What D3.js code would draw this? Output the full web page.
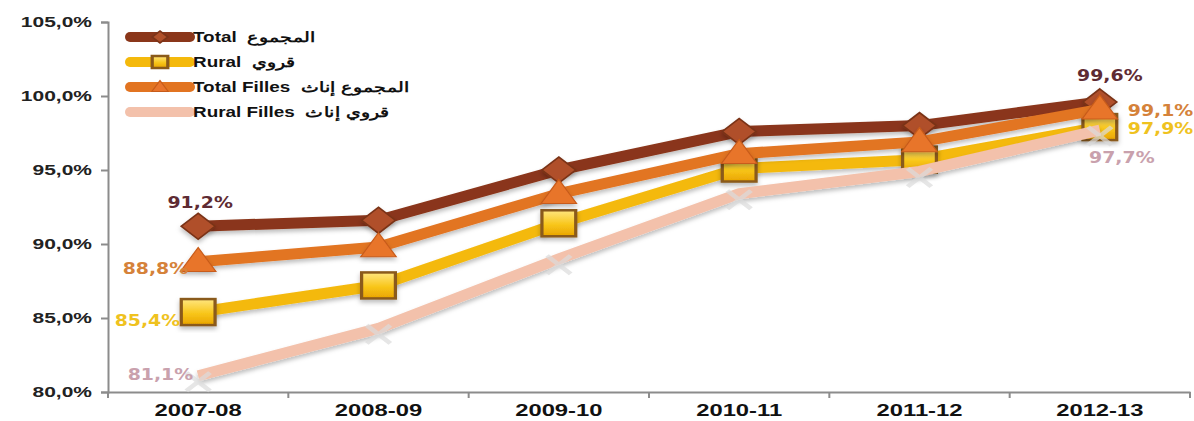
<!DOCTYPE html>
<html>
<head>
<meta charset="utf-8">
<script src="https://cdn.jsdelivr.net/npm/d3@7"></script>
<style>
  body { margin: 0; background: #fff; }
  text { font-family: "Liberation Sans", Arial, sans-serif; }
</style>
</head>
<body>
<div id="chart"></div>
<script>
// Data
const years = ["2007-08", "2008-09", "2009-10", "2010-11", "2011-12", "2012-13"];
const total = [91.2, 91.6, 95.0, 97.6, 98.0, 99.6];
const rural = [85.4, 87.2, 91.4, 95.1, 95.7, 97.9];
const totalFilles = [88.8, 89.8, 93.4, 96.1, 96.9, 99.1];
const ruralFilles = [81.1, 84.3, 89.0, 93.4, 94.9, 97.7];
const yTicks = [80, 85, 90, 95, 100, 105];
const seriesNames = ["Total  المجموع", "Rural  قروي", "Total Filles  المجموع إناث", "Rural Filles  قروي إناث"];

const series = [
  {name: seriesNames[0], values: total, color: "#8a361a", marker: "diamond", labelColor: "#5e2b33"},
  {name: seriesNames[1], values: rural, color: "#f4b90c", marker: "square", labelColor: "#efc21f"},
  {name: seriesNames[2], values: totalFilles, color: "#e27421", marker: "triangle", labelColor: "#d5823a"},
  {name: seriesNames[3], values: ruralFilles, color: "#f3c1ab", marker: "cross", labelColor: "#c9a1ad"}
];

const W = 1194, H = 421;
const SX = 1.3; // the original picture is stretched horizontally

const svg = d3.select("#chart").append("svg")
  .attr("width", W).attr("height", H);

const defs = svg.append("defs");
const grad = defs.append("linearGradient").attr("id", "sq").attr("x1", 0).attr("y1", 0).attr("x2", 0).attr("y2", 1);
grad.append("stop").attr("offset", "0%").attr("stop-color", "#ffe680");
grad.append("stop").attr("offset", "55%").attr("stop-color", "#f8c61a");
grad.append("stop").attr("offset", "100%").attr("stop-color", "#e9a400");
const sh = defs.append("filter").attr("id", "shadow").attr("x", "-30%").attr("y", "-30%").attr("width", "160%").attr("height", "160%");
sh.append("feDropShadow").attr("dx", 0).attr("dy", 3).attr("stdDeviation", 2).attr("flood-color", "#000").attr("flood-opacity", 0.25);

const x = d3.scaleBand().domain(years).range([108, 1190]);
const cx = d => x(d) + x.bandwidth() / 2;
const y = d3.scaleLinear().domain([80, 105]).range([392, 22]);

// stretch a text horizontally around its anchor x
function stretch(sel, k) {
  sel.each(function() {
    const t = d3.select(this);
    const ax = +t.attr("x") || 0;
    t.attr("transform", `translate(${ax},0) scale(${k},1) translate(${-ax},0)`);
  });
}

// Y axis
const yAxis = svg.append("g")
  .attr("transform", "translate(108,0)")
  .call(d3.axisLeft(y).tickValues(yTicks).tickSize(7).tickPadding(9)
    .tickFormat(d => d.toFixed(1).replace(".", ",") + "%"));
yAxis.select(".domain").attr("stroke", "#8c8c8c").attr("stroke-width", 2);
yAxis.selectAll(".tick line").attr("stroke", "#8c8c8c").attr("stroke-width", 2);
yAxis.selectAll("text").attr("fill", "#222").style("font-size", "15px").style("font-weight", "bold")
  .style("font-family", "'Liberation Sans', Arial, sans-serif")
  .call(stretch, 1.4);

// X axis
const xAxis = svg.append("g")
  .attr("transform", "translate(0,392)")
  .call(d3.axisBottom(x).tickSize(0).tickPadding(12));
xAxis.select(".domain").attr("stroke", "#8c8c8c").attr("stroke-width", 2);
xAxis.selectAll("text").attr("fill", "#111").style("font-size", "17px").style("font-weight", "bold")
  .style("font-family", "'Liberation Sans', Arial, sans-serif")
  .call(stretch, 1.4);
xAxis.selectAll(".bound")
  .data(years.concat(["end"]))
  .enter().append("line")
  .attr("class", "bound")
  .attr("x1", (d, i) => x.range()[0] + i * x.bandwidth())
  .attr("x2", (d, i) => x.range()[0] + i * x.bandwidth())
  .attr("y1", 0).attr("y2", 6)
  .attr("stroke", "#8c8c8c").attr("stroke-width", 2);

// Marker drawing
function drawMarker(g, type, color, size) {
  const s = size;
  if (type === "diamond") {
    g.append("path")
      .attr("d", `M0,${-s}L${s},0L0,${s}L${-s},0Z`)
      .attr("fill", "#b0502a").attr("stroke", "#7a3318").attr("stroke-width", 1.5);
  } else if (type === "square") {
    g.append("rect")
      .attr("x", -s).attr("y", -s).attr("width", 2 * s).attr("height", 2 * s)
      .attr("fill", "url(#sq)").attr("stroke", "#8a5a1a").attr("stroke-width", 2.5);
  } else if (type === "triangle") {
    g.append("path")
      .attr("d", `M0,${-s * 1.1}L${s * 1.05},${s * 0.75}L${-s * 1.05},${s * 0.75}Z`)
      .attr("fill", "#e8742c").attr("stroke", "#c85c1a").attr("stroke-width", 1);
  } else {
    g.append("path")
      .attr("d", `M${-s * 0.7},${-s * 0.7}L${s * 0.7},${s * 0.7}M${s * 0.7},${-s * 0.7}L${-s * 0.7},${s * 0.7}`)
      .attr("stroke", "#dcdcdc").attr("stroke-width", 4).attr("opacity", 0.7);
  }
}

const line = d3.line().x((d, i) => cx(years[i])).y(d => y(d));

series.forEach(s => {
  const g = svg.append("g");
  g.append("path")
    .attr("d", line(s.values))
    .attr("fill", "none")
    .attr("stroke", s.color)
    .attr("stroke-width", 11)
    .attr("stroke-linejoin", "round")
    .attr("filter", "url(#shadow)");
  s.values.forEach((v, i) => {
    const m = g.append("g")
      .attr("transform", `translate(${cx(years[i])},${y(v) + (s.marker === "cross" ? 6 : 0)}) scale(${SX},1)`)
      .attr("filter", s.marker === "cross" ? null : "url(#shadow)");
    drawMarker(m, s.marker, s.color, 13);
  });
});

// Data labels (first and last points)
const fmt = v => v.toFixed(1).replace(".", ",") + "%";
const labelFont = "'DejaVu Sans', Verdana, sans-serif";
function label(px, py, txt, color, anchor) {
  svg.append("text")
    .attr("x", px).attr("y", py)
    .attr("text-anchor", anchor)
    .attr("fill", color)
    .style("font-family", labelFont)
    .style("font-size", "16px")
    .style("font-weight", "bold")
    .text(txt)
    .call(stretch, 1.18);
}
const first = years[0], last = years[years.length - 1];
label(cx(first) + 2, y(total[0]) - 18, fmt(total[0]), series[0].labelColor, "middle");
label(cx(first) - 10, y(totalFilles[0]) + 12, fmt(totalFilles[0]), series[2].labelColor, "end");
label(cx(first) - 18, y(rural[0]) + 14, fmt(rural[0]), series[1].labelColor, "end");
label(cx(first) - 5, y(ruralFilles[0]) + 4, fmt(ruralFilles[0]), series[3].labelColor, "end");
label(cx(last) + 10, y(total[5]) - 21, fmt(total[5]), series[0].labelColor, "middle");
label(cx(last) + 28, y(totalFilles[5]) + 7, fmt(totalFilles[5]), series[2].labelColor, "start");
label(cx(last) + 28, y(rural[5]) + 7, fmt(rural[5]), series[1].labelColor, "start");
label(cx(last) + 22, y(ruralFilles[5]) + 33, fmt(ruralFilles[5]), series[3].labelColor, "middle");

// Legend
const legend = svg.append("g").attr("transform", "translate(130,37)");
series.forEach((s, i) => {
  const lg = legend.append("g").attr("transform", `translate(0,${i * 25})`);
  lg.append("line").attr("x1", 0).attr("x2", 60).attr("y1", 0).attr("y2", 0)
    .attr("stroke", s.color).attr("stroke-width", 10).attr("stroke-linecap", "round");
  if (s.marker !== "cross") {
    const m = lg.append("g").attr("transform", `translate(30,0) scale(${SX},1)`);
    drawMarker(m, s.marker, s.color, 6);
  }
  lg.append("text")
    .attr("x", 63).attr("y", 5)
    .attr("fill", "#111")
    .style("font-size", "14px")
    .style("font-weight", "bold")
    .style("white-space", "pre")
    .text(s.name)
    .call(stretch, 1.35);
});
</script>
</body>
</html>
